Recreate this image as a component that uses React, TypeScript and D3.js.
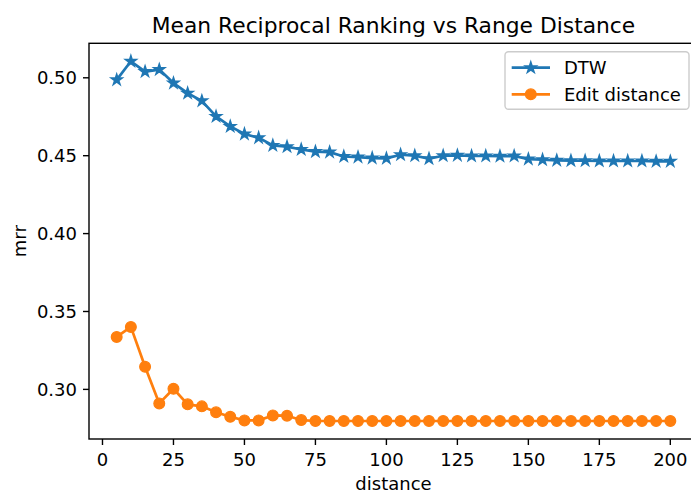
import React from "react";
import * as d3 from "d3";

const distances = [
  5, 10, 15, 20, 25, 30, 35, 40, 45, 50, 55, 60, 65, 70, 75, 80, 85, 90, 95, 100,
  105, 110, 115, 120, 125, 130, 135, 140, 145, 150, 155, 160, 165, 170, 175, 180,
  185, 190, 195, 200,
];
const dtw = [
  0.4987, 0.5106, 0.504, 0.5053, 0.4966, 0.4901, 0.4852, 0.4752, 0.4688, 0.4639,
  0.4615, 0.4566, 0.4558, 0.454, 0.4526, 0.4523, 0.4495, 0.4491, 0.4485, 0.4483,
  0.4506, 0.45, 0.4481, 0.45, 0.4502, 0.4498, 0.4498, 0.4497, 0.4498, 0.4478,
  0.4474, 0.447, 0.4468, 0.4468, 0.4466, 0.4466, 0.4466, 0.4466, 0.4464, 0.4464,
];
const editDist = [
  0.3337, 0.3401, 0.3145, 0.291, 0.3004, 0.2904, 0.2891, 0.2853, 0.2824, 0.2801,
  0.2801, 0.2833, 0.2831, 0.2803, 0.2797, 0.2797, 0.2797, 0.2797, 0.2797, 0.2797,
  0.2797, 0.2797, 0.2797, 0.2797, 0.2797, 0.2797, 0.2797, 0.2797, 0.2797, 0.2797,
  0.2797, 0.2797, 0.2797, 0.2797, 0.2797, 0.2797, 0.2797, 0.2797, 0.2797, 0.2797,
];
const xTicks = [0, 25, 50, 75, 100, 125, 150, 175, 200];
const yTicks = [0.3, 0.35, 0.4, 0.45, 0.5];
const seriesNames = ["DTW", "Edit distance"];

const W = 691;
const H = 493;
const left = 89;
const right = 698;
const top = 43.3;
const bottom = 439;
const font = "DejaVu Sans, sans-serif";
const blue = "#1f77b4";
const orange = "#ff7f0e";
const fs = 18;

function App() {
  // matplotlib style 5% margins
  const [x0, x1] = d3.extent(distances) as [number, number];
  const xPad = (x1 - x0) * 0.05;
  const all = [...dtw, ...editDist];
  const [y0, y1] = d3.extent(all) as [number, number];
  const yPad = (y1 - y0) * 0.05;

  const x = d3.scaleLinear().domain([x0 - xPad, x1 + xPad]).range([left, right]);
  const y = d3.scaleLinear().domain([y0 - yPad, y1 + yPad]).range([bottom, top]);

  const line = d3
    .line<number>()
    .x((_, i) => x(distances[i]))
    .y((v) => y(v));

  const star = d3.symbol().type(d3.symbolStar).size(31)();
  const fmt = d3.format(".2f");

  return (
    <svg
      width={W}
      height={H}
      style={{ position: "absolute", left: 0, top: 0, background: "#fff" }}
      fontFamily={font}
    >
      <rect width={W} height={H} fill="#fff" />
      {/* title */}
      <text x={(left + right) / 2} y={32.5} textAnchor="middle" fontSize={21.8} fill="#000">
        Mean Reciprocal Ranking vs Range Distance
      </text>

      {/* lines */}
      <path d={line(dtw) || ""} fill="none" stroke={blue} strokeWidth={2.7} strokeLinejoin="round" />
      {dtw.map((v, i) => (
        <path
          key={"s" + i}
          d={star || ""}
          transform={`translate(${x(distances[i])},${y(v)})`}
          fill={blue}
          stroke={blue}
          strokeWidth={1.8}
          strokeLinejoin="miter"
        />
      ))}
      <path d={line(editDist) || ""} fill="none" stroke={orange} strokeWidth={2.7} strokeLinejoin="round" />
      {editDist.map((v, i) => (
        <circle key={"c" + i} cx={x(distances[i])} cy={y(v)} r={5.4} fill={orange} stroke={orange} strokeWidth={1.2} />
      ))}

      {/* axes frame */}
      <rect
        x={left}
        y={top}
        width={right - left}
        height={bottom - top}
        fill="none"
        stroke="#000"
        strokeWidth={1.4}
      />

      {/* x ticks */}
      {xTicks.map((t) => (
        <g key={"x" + t} transform={`translate(${x(t)},${bottom})`}>
          <line y1={0} y2={6} stroke="#000" strokeWidth={1.4} />
          <text y={466.3 - bottom} textAnchor="middle" fontSize={fs} fill="#000">
            {t}
          </text>
        </g>
      ))}
      {/* y ticks */}
      {yTicks.map((t) => (
        <g key={"y" + t} transform={`translate(${left},${y(t)})`}>
          <line x1={0} x2={-6} stroke="#000" strokeWidth={1.4} />
          <text x={-12} dy="0.36em" textAnchor="end" fontSize={fs} fill="#000">
            {fmt(t)}
          </text>
        </g>
      ))}

      {/* axis labels */}
      <text x={(left + right) / 2} y={489.5} textAnchor="middle" fontSize={fs} fill="#000">
        distance
      </text>
      <text
        transform={`translate(26,${(top + bottom) / 2}) rotate(-90)`}
        textAnchor="middle"
        fontSize={fs}
        fill="#000"
      >
        mrr
      </text>

      {/* legend */}
      <rect x={505} y={51.7} width={184} height={57.5} rx={3.5} fill="#fff" fillOpacity={0.8} stroke="#ccc" strokeWidth={1.4} />
      <line x1={511.7} x2={550} y1={67.7} y2={67.7} stroke={blue} strokeWidth={2.7} />
      <path d={star || ""} transform="translate(530.8,67.7)" fill={blue} stroke={blue} strokeWidth={1.8} />
      <text x={564} y={67.7} dy="0.36em" fontSize={fs} fill="#000">
        {seriesNames[0]}
      </text>
      <line x1={511.7} x2={550} y1={94.3} y2={94.3} stroke={orange} strokeWidth={2.7} />
      <circle cx={530.8} cy={94.3} r={5.4} fill={orange} stroke={orange} strokeWidth={1.2} />
      <text x={564} y={94.3} dy="0.36em" fontSize={fs} fill="#000">
        {seriesNames[1]}
      </text>
    </svg>
  );
}

export default App;
